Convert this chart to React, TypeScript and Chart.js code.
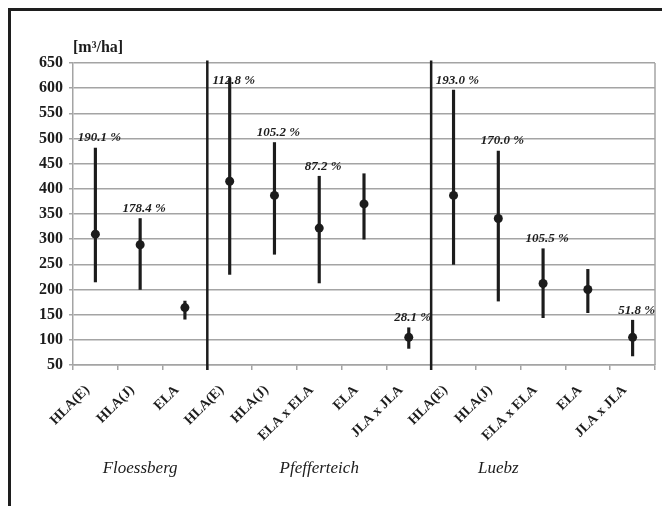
import React, { useEffect, useRef } from "react";
import { Chart, registerables } from "chart.js";

Chart.register(...registerables);

const categories = [
  "HLA(E)", "HLA(J)", "ELA",
  "HLA(E)", "HLA(J)", "ELA x ELA", "ELA", "JLA x JLA",
  "HLA(E)", "HLA(J)", "ELA x ELA", "ELA", "JLA x JLA",
];
const means = [310, 289, 164, 415, 387, 322, 370, 105, 387, 341, 212, 200, 105];
const mins = [215, 200, 141, 230, 270, 213, 300, 83, 250, 177, 144, 154, 68];
const maxs = [481, 341, 177, 620, 492, 425, 430, 124, 596, 475, 281, 240, 139];
const pctLabels = [
  "190.1 %", "178.4 %", "",
  "112.8 %", "105.2 %", "87.2 %", "", "28.1 %",
  "193.0 %", "170.0 %", "105.5 %", "", "51.8 %",
];
const groups = ["Floessberg", "Pfefferteich", "Luebz"];
const groupAnchor = [1, 5, 9];
const dividerAfter = [2, 7];
const dividerRange = [40, 655];
const yMin = 50;
const yMax = 650;
const yUnit = "[m³/ha]";

const GRID = "#a4a4a4";
const INK = "#1c1c1c";
const SERIF = "'Liberation Serif', 'Times New Roman', serif";

const overlayPlugin = {
  id: "overlay",
  afterDatasetsDraw(chart: any) {
    const { ctx, chartArea, scales } = chart;
    const xs = scales.x;
    const ys = scales.y;
    ctx.save();
    // right border of plot area
    ctx.strokeStyle = GRID;
    ctx.lineWidth = 1.5;
    ctx.beginPath();
    ctx.moveTo(chartArea.right, chartArea.top);
    ctx.lineTo(chartArea.right, chartArea.bottom);
    ctx.stroke();
    // dividers
    ctx.strokeStyle = INK;
    ctx.lineWidth = 2.5;
    dividerAfter.forEach((i) => {
      const x = (xs.getPixelForValue(i) + xs.getPixelForValue(i + 1)) / 2;
      ctx.beginPath();
      ctx.moveTo(x, ys.getPixelForValue(dividerRange[0]));
      ctx.lineTo(x, ys.getPixelForValue(dividerRange[1]));
      ctx.stroke();
    });
    // percentage labels
    ctx.fillStyle = INK;
    ctx.font = `italic bold 13px ${SERIF}`;
    ctx.textAlign = "center";
    ctx.textBaseline = "middle";
    pctLabels.forEach((t, i) => {
      if (!t) return;
      const x = xs.getPixelForValue(i) + 4;
      const y = Math.max(ys.getPixelForValue(maxs[i]) - 10, chartArea.top + 18);
      ctx.fillText(t, x, y);
    });
    // unit label
    ctx.font = `bold 16px ${SERIF}`;
    ctx.textAlign = "left";
    ctx.fillText(yUnit, chartArea.left, chartArea.top - 15);
    // group labels
    ctx.font = `italic 17px ${SERIF}`;
    ctx.textAlign = "center";
    groups.forEach((g, k) => {
      ctx.fillText(g, xs.getPixelForValue(groupAnchor[k]), chartArea.bottom + 104);
    });
    ctx.restore();
  },
};

export default function App() {
  const ref = useRef<HTMLCanvasElement>(null);
  useEffect(() => {
    if (!ref.current) return;
    const chart = new Chart(ref.current, {
      type: "bar",
      data: {
        labels: categories,
        datasets: [
          {
            type: "bar",
            data: mins.map((m, i) => [m, maxs[i]]) as any,
            backgroundColor: INK,
            borderWidth: 0,
            barThickness: 2.5,
          },
          {
            type: "line",
            data: means,
            showLine: false,
            pointRadius: 4.5,
            pointBackgroundColor: INK,
            pointBorderColor: INK,
            pointBorderWidth: 0,
          },
        ],
      } as any,
      options: {
        animation: false,
        responsive: false,
        layout: { padding: { top: 52, right: 15, left: 0, bottom: 0 } },
        plugins: {
          legend: { display: false },
          tooltip: { enabled: false },
        },
        scales: {
          x: {
            offset: true,
            grid: {
              offset: true,
              drawOnChartArea: false,
              drawTicks: true,
              tickLength: 5,
              color: GRID,
              lineWidth: 1.5,
            },
            border: { color: GRID, width: 1.5 },
            ticks: {
              autoSkip: false,
              minRotation: 45,
              maxRotation: 45,
              padding: 12,
              labelOffset: -8,
              color: INK,
              font: { family: SERIF, size: 14, weight: "bold" },
            },
            afterFit: (s: any) => {
              s.height = 141;
            },
          },
          y: {
            min: yMin,
            max: yMax,
            grid: {
              color: (c: any) => (c.tick && c.tick.value % 50 === 0 ? GRID : "rgba(0,0,0,0)"),
              tickColor: GRID,
              lineWidth: 1.5,
              tickLength: 4,
            },
            border: { color: GRID, width: 1.5 },
            ticks: {
              stepSize: 25,
              padding: 6,
              color: INK,
              font: { family: SERIF, size: 16, weight: "bold" },
              callback: (v: any) => (Number(v) % 50 === 0 ? String(v) : ""),
            },
            afterFit: (s: any) => {
              s.width = 62;
            },
          },
        },
      } as any,
      plugins: [overlayPlugin],
    });
    return () => chart.destroy();
  }, []);
  return (
    <div
      style={{
        width: 662,
        height: 498,
        borderTop: "3px solid #1e1e1e",
        borderLeft: "3px solid #1e1e1e",
        boxSizing: "border-box",
        background: "#fff",
      }}
    >
      <canvas ref={ref} width={659} height={495} style={{ display: "block" }} />
    </div>
  );
}
